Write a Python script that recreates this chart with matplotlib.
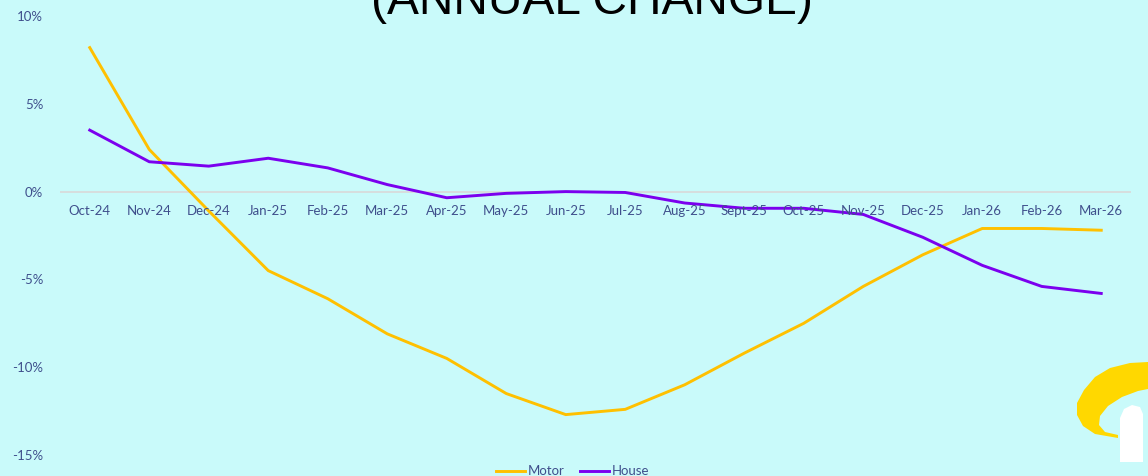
"""Motor vs House annual change line chart"""
import matplotlib
matplotlib.use("Agg")
import matplotlib.pyplot as plt
from matplotlib.patches import Polygon
from matplotlib.transforms import Affine2D
from matplotlib.ticker import FuncFormatter

months = ["Oct-24", "Nov-24", "Dec-24", "Jan-25", "Feb-25", "Mar-25", "Apr-25",
          "May-25", "Jun-25", "Jul-25", "Aug-25", "Sept-25", "Oct-25", "Nov-25",
          "Dec-25", "Jan-26", "Feb-26", "Mar-26"]
motor = [8.2, 2.4, -1.1, -4.5, -6.1, -8.1, -9.5, -11.5, -12.7, -12.4,
         -11.0, -9.2, -7.5, -5.4, -3.6, -2.1, -2.1, -2.2]
house = [3.5, 1.7, 1.45, 1.9, 1.35, 0.4, -0.35, -0.1, 0.0, -0.05,
         -0.65, -0.95, -0.95, -1.3, -2.6, -4.2, -5.4, -5.8]
yticks = [-15, -10, -5, 0, 5, 10]

BG = "#C9FAFA"
TXT = "#3F4F8C"
W, H = 1148, 476

plt.rcParams['font.family'] = ['Lato', 'DejaVu Sans']

fig = plt.figure(figsize=(W / 100, H / 100), dpi=100, facecolor=BG)
ax = fig.add_axes([60 / W, 1 - 455 / H, (1131 - 60) / W, (455 - 16) / H])
ax.set_facecolor(BG)

x = range(len(months))
ax.plot(x, motor, color="#FFC000", lw=2.1, label="Motor", solid_joinstyle="round")
ax.plot(x, house, color="#7B00EE", lw=2.1, label="House", solid_joinstyle="round")

ax.set_xlim(-0.5, len(months) - 0.5)
ax.set_ylim(-15, 10)
ax.set_yticks(yticks)
ax.yaxis.set_major_formatter(FuncFormatter(lambda v, p: f"{v:.0f}%"))
ax.tick_params(axis="y", length=0, pad=12, labelsize=9.5, labelcolor=TXT)
ax.set_xticks([])
for s in ax.spines.values():
    s.set_visible(False)
ax.axhline(0, color="#D9D9D9", lw=1.2, zorder=0)

# category labels sit just under the zero line
for i, m in enumerate(months):
    ax.annotate(m, (i, 0), xytext=(0, -10), textcoords="offset points",
                ha="center", va="top", fontsize=9.5, color=TXT)

# title runs off the top edge, as in the original
fig.text(0.516, 1 - 14 / H, "(ANNUAL CHANGE)", ha="center", va="baseline",
         fontsize=34.5, family="Liberation Sans", color="black")

leg = fig.legend(loc="lower center", bbox_to_anchor=(0.499, -0.028), ncol=2,
                 frameon=False, fontsize=9.5, handlelength=2.2, handletextpad=0.2,
                 columnspacing=1.2)
for t in leg.get_texts():
    t.set_color(TXT)

# logo in the corner, drawn in pixel coords from the top-left
px = Affine2D().scale(1, -1).translate(0, H)
crescent = [(1148, 362), (1130, 363), (1110, 368), (1095, 377), (1084, 390),
            (1077, 403), (1077, 415), (1083, 426), (1095, 434), (1118, 438),
            (1118, 435), (1105, 432), (1099, 425), (1100, 416), (1108, 406),
            (1122, 397), (1138, 391), (1148, 389)]
stem = [(1120, 462), (1120, 418), (1124, 409), (1132, 405), (1140, 407),
        (1143, 414), (1143, 462)]
fig.patches.append(Polygon(crescent, closed=True, transform=px,
                           facecolor="#FFD800", edgecolor="none"))
fig.patches.append(Polygon(stem, closed=True, transform=px,
                           facecolor="white", edgecolor="none"))

fig.savefig("out.png", dpi=100, facecolor=BG)
